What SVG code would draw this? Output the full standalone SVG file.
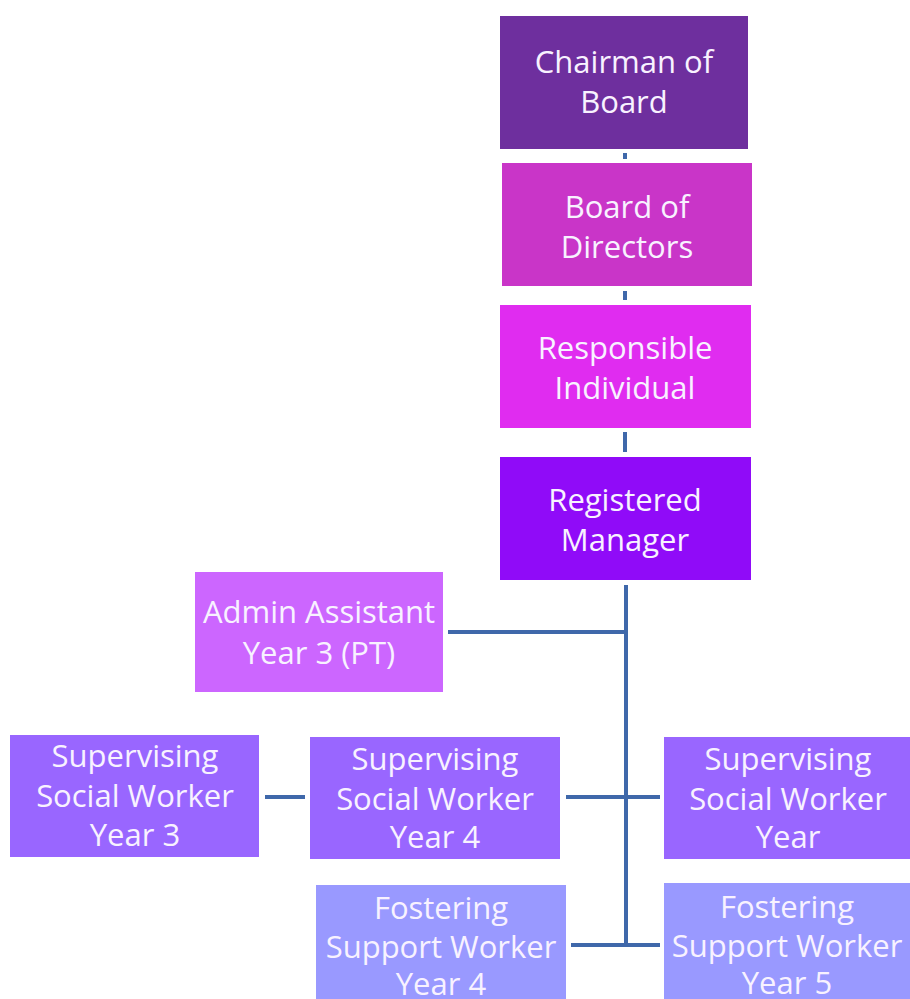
<svg xmlns="http://www.w3.org/2000/svg" width="910" height="999" viewBox="0 0 910 999">
<style>
.t{font-family:"Open Sans","Liberation Sans",sans-serif;font-size:31px;fill:#F8F2FF;text-anchor:middle}
.c{stroke:#3F68AA;stroke-width:4;fill:none}
</style>
<rect width="910" height="999" fill="#FFFFFF"/>
<g id="connectors">
<line class="c" x1="625" y1="153" x2="625" y2="159"/>
<line class="c" x1="625" y1="291" x2="625" y2="300"/>
<line class="c" x1="625" y1="432" x2="625" y2="452"/>
<line class="c" x1="626" y1="585" x2="626" y2="947"/>
<line class="c" x1="448" y1="632" x2="626" y2="632"/>
<line class="c" x1="265" y1="797" x2="305" y2="797"/>
<line class="c" x1="566" y1="797" x2="660" y2="797"/>
<line class="c" x1="571" y1="945" x2="660" y2="945"/>
</g>
<g id="chairman">
<rect x="500" y="16" width="248" height="133" fill="#6E2F9E"/>
<text class="t" x="624" y="73">Chairman of</text>
<text class="t" x="624" y="113">Board</text>
</g>
<g id="board">
<rect x="502" y="163" width="250" height="123" fill="#C935C8"/>
<text class="t" x="627" y="218">Board of</text>
<text class="t" x="627" y="258">Directors</text>
</g>
<g id="responsible">
<rect x="500" y="305" width="251" height="123" fill="#E02CF0"/>
<text class="t" x="625" y="359">Responsible</text>
<text class="t" x="625" y="399">Individual</text>
</g>
<g id="manager">
<rect x="500" y="457" width="251" height="123" fill="#900BF8"/>
<text class="t" x="625" y="511">Registered</text>
<text class="t" x="625" y="551">Manager</text>
</g>
<g id="admin">
<rect x="195" y="572" width="248" height="120" fill="#CC66FF"/>
<text class="t" x="319" y="623">Admin Assistant</text>
<text class="t" x="319" y="664">Year 3 (PT)</text>
</g>
<g id="ssw3">
<rect x="10" y="735" width="249" height="122" fill="#9966FF"/>
<text class="t" x="135" y="767">Supervising</text>
<text class="t" x="135" y="807">Social Worker</text>
<text class="t" x="135" y="846">Year 3</text>
</g>
<g id="ssw4">
<rect x="310" y="737" width="250" height="122" fill="#9966FF"/>
<text class="t" x="435" y="770">Supervising</text>
<text class="t" x="435" y="810">Social Worker</text>
<text class="t" x="435" y="848">Year 4</text>
</g>
<g id="ssw">
<rect x="664" y="737" width="246" height="122" fill="#9966FF"/>
<text class="t" x="788" y="770">Supervising</text>
<text class="t" x="788" y="810">Social Worker</text>
<text class="t" x="788" y="848">Year</text>
</g>
<g id="fsw4">
<rect x="316" y="885" width="250" height="114" fill="#9999FF"/>
<text class="t" x="441" y="919">Fostering</text>
<text class="t" x="441" y="958">Support Worker</text>
<text class="t" x="441" y="995">Year 4</text>
</g>
<g id="fsw5">
<rect x="664" y="883" width="246" height="116" fill="#9999FF"/>
<text class="t" x="787" y="918">Fostering</text>
<text class="t" x="787" y="957">Support Worker</text>
<text class="t" x="787" y="994">Year 5</text>
</g>
</svg>
